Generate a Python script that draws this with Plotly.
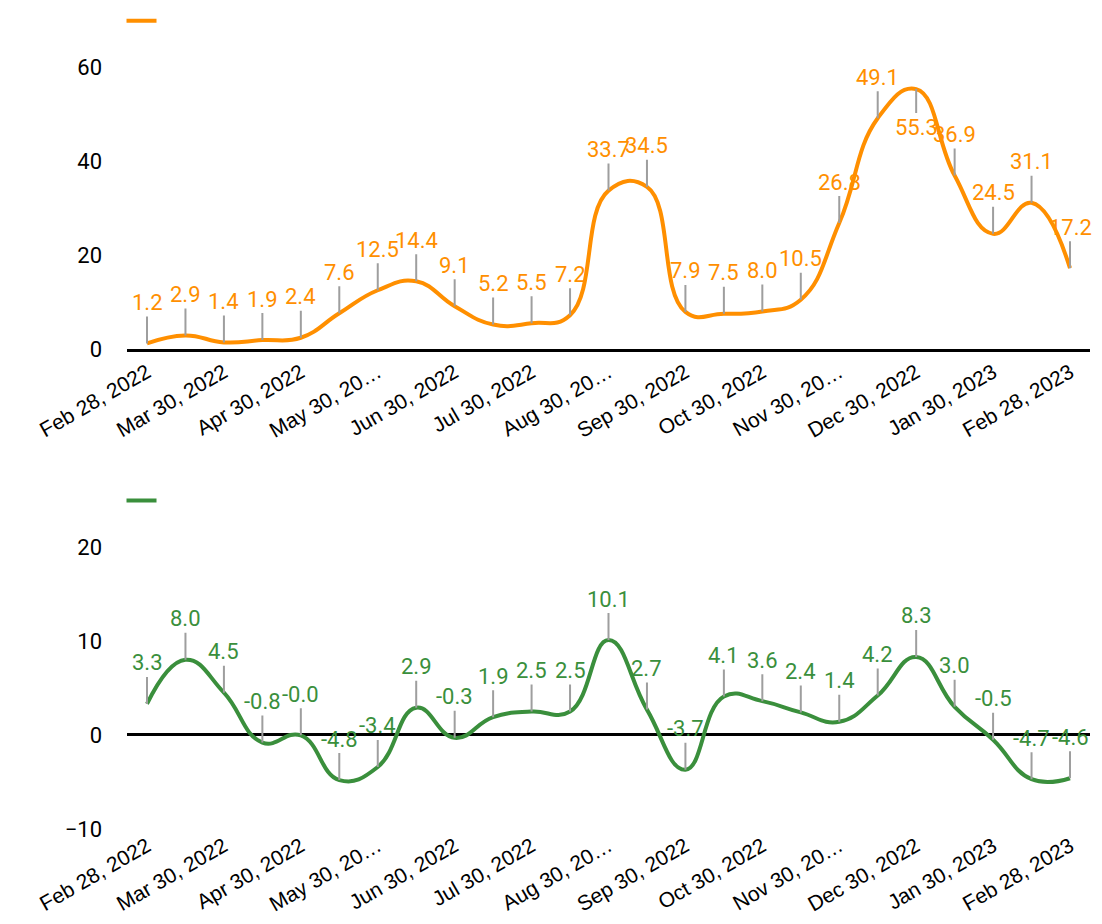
import plotly.graph_objects as go

dates = ["Feb 28, 2022", "Mar 15, 2022", "Mar 30, 2022", "Apr 15, 2022", "Apr 30, 2022",
         "May 15, 2022", "May 30, 2022", "Jun 15, 2022", "Jun 30, 2022", "Jul 15, 2022",
         "Jul 30, 2022", "Aug 15, 2022", "Aug 30, 2022", "Sep 15, 2022", "Sep 30, 2022",
         "Oct 15, 2022", "Oct 30, 2022", "Nov 15, 2022", "Nov 30, 2022", "Dec 15, 2022",
         "Dec 30, 2022", "Jan 15, 2023", "Jan 30, 2023", "Feb 14, 2023", "Feb 28, 2023"]

top_values = [1.2, 2.9, 1.4, 1.9, 2.4, 7.6, 12.5, 14.4, 9.1, 5.2, 5.5, 7.2, 33.7, 34.5,
              7.9, 7.5, 8.0, 10.5, 26.8, 49.1, 55.3, 36.9, 24.5, 31.1, 17.2]
bottom_values = [3.3, 8.0, 4.5, -0.8, -0.04, -4.8, -3.4, 2.9, -0.3, 1.9, 2.5, 2.5, 10.1, 2.7,
                 -3.7, 4.1, 3.6, 2.4, 1.4, 4.2, 8.3, 3.0, -0.5, -4.7, -4.6]

tick_dates = dates[::2]
tick_text = ["Feb 28, 2022", "Mar 30, 2022", "Apr 30, 2022", "May 30, 20…", "Jun 30, 2022",
             "Jul 30, 2022", "Aug 30, 20…", "Sep 30, 2022", "Oct 30, 2022", "Nov 30, 20…",
             "Dec 30, 2022", "Jan 30, 2023", "Feb 28, 2023"]

top_ticks = [0, 20, 40, 60]
bottom_ticks = [-10, 0, 10, 20]

ORANGE = "#FF8F00"
GREEN = "#3A8F3C"

fig = go.Figure()
fig.add_trace(go.Scatter(x=dates, y=top_values, mode="lines", name="",
                         line=dict(color=ORANGE, width=4, shape="spline", smoothing=1.3),
                         xaxis="x", yaxis="y", legend="legend", hoverinfo="skip"))
fig.add_trace(go.Scatter(x=dates, y=bottom_values, mode="lines", name="",
                         line=dict(color=GREEN, width=4, shape="spline", smoothing=1.3),
                         xaxis="x2", yaxis="y2", legend="legend2", hoverinfo="skip"))

annotations = []
for d, v in zip(dates, top_values):
    below = v == max(top_values)
    annotations.append(dict(x=d, y=v, xref="x", yref="y", text=f"{v:.1f}",
                            showarrow=True, arrowhead=0, arrowwidth=2, arrowcolor="#9E9E9E",
                            ax=0, ay=38 if below else -41, standoff=0,
                            font=dict(family="Roboto", size=22, color=ORANGE)))
for d, v in zip(dates, bottom_values):
    annotations.append(dict(x=d, y=v, xref="x2", yref="y2", text=f"{v:.1f}",
                            showarrow=True, arrowhead=0, arrowwidth=2, arrowcolor="#9E9E9E",
                            ax=0, ay=-41, standoff=0,
                            font=dict(family="Roboto", size=22, color=GREEN)))

xcommon = dict(type="category", range=[-0.52, 24.52], tickmode="array",
               tickvals=tick_dates, ticktext=tick_text, tickangle=-30,
               showgrid=False, ticks="", tickfont=dict(family="Liberation Sans", size=21, color="#000"))

fig.update_layout(
    width=1094, height=908,
    margin=dict(l=119, r=12, t=12, b=87, autoexpand=False),
    paper_bgcolor="white", plot_bgcolor="white",
    xaxis=dict(**xcommon, anchor="y", showline=True, linecolor="#000", linewidth=3),
    yaxis=dict(domain=[0.5933, 1.0], range=[0, 70], tickvals=top_ticks, showgrid=False,
               zeroline=False, ticks="", ticklabelstandoff=24,
               tickfont=dict(family="Roboto", size=22, color="#000")),
    xaxis2=dict(**xcommon, anchor="y2", showline=False),
    yaxis2=dict(domain=[0.0, 0.4067], range=[-10, 25], tickvals=bottom_ticks, showgrid=False,
                zeroline=True, zerolinecolor="#000", zerolinewidth=3, ticks="",
                ticklabelstandoff=24, tickfont=dict(family="Roboto", size=22, color="#000")),
    legend=dict(x=-0.0057, y=0.9986, xanchor="left", yanchor="middle", bgcolor="rgba(0,0,0,0)",
                font=dict(size=14)),
    legend2=dict(x=-0.0057, y=0.4057, xanchor="left", yanchor="middle",
                 bgcolor="rgba(0,0,0,0)", font=dict(size=14)),
    annotations=annotations,
    showlegend=True,
)

fig.write_html("out.html")
